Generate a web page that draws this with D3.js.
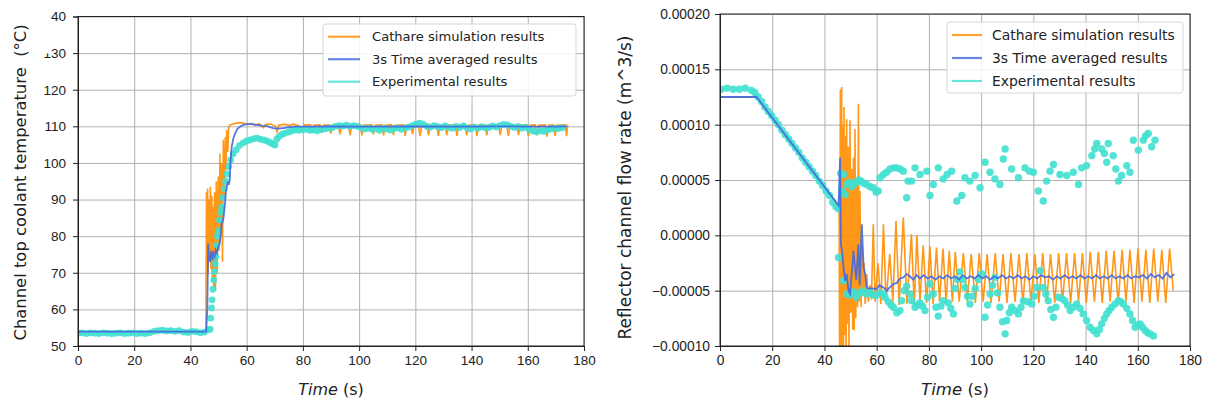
<!DOCTYPE html>
<html>
<head>
<meta charset="utf-8">
<script src="https://cdn.jsdelivr.net/npm/d3@7"></script>
<style>
  body { margin: 0; background: #fff; }
  svg { font-family: "DejaVu Sans", sans-serif; }
  .grid line { stroke: #b0b0b0; stroke-width: 1; }
  .grid path { display: none; }
  .axis path, .axis line { stroke: #222; }
  .axis text { fill: #222; }
</style>
</head>
<body>
<svg id="chart" width="1208" height="403"></svg>
<script>

// ---------- left panel: channel top coolant temperature (°C) ----------
var simTemp = [
  [0,53.9],[45.5,53.9],[45.7,92],[45.9,72],[46.1,93],[46.3,70],[46.6,90],[46.8,74],[47.1,93.5],[47.3,71],
  [47.6,91],[47.8,68],[48.1,88],[48.3,66],[48.6,92],[48.9,65.3],[49.2,95],[49.5,70],[49.9,96.3],[50.2,76],
  [50.5,102.6],[50.8,80],[51.1,100],[51.4,73],[51.7,106.3],[52.0,90],[52.4,107],[52.6,98],[52.9,109],[53.3,103],
  [53.6,109.8],[54.1,110.4],[55.9,110.8],[57.5,111],[58.8,110.9],[60.2,110.5],[61.5,110.8],[63,110.3],[64.5,110.7],
  [66,109.6],[66.7,110.5],[68.5,110.6],[70.2,110.0],[70.8,108.5],[71.4,110.3],[73.5,110.6],[75,110.2],[76.5,110.6],
  [78.5,110.2],[79.8,108.8],[80.5,110.4],
  [82.7,110.4],[83.3,108.5],[83.9,110.3],[86.1,110.4],[86.7,108.2],[87.3,110.3],[89.3,110.4],[89.9,108.0],[90.5,110.3],
  [92.6,110.4],[93.2,107.8],[93.8,110.3],[96.2,110.4],[96.8,107.6],[97.4,110.3],[100.4,110.4],[101,107.5],[101.6,110.3],
  [104.5,110.4],[105.1,107.8],[105.7,110.3],[108.1,110.4],[108.7,107.5],[109.3,110.3],[111.6,110.4],[112.2,107.6],[112.8,110.3],
  [115.8,110.4],[116.4,107.4],[117,110.3],[118.4,110.4],[119,107.9],[119.6,110.3],[121.1,110.4],[121.7,107.3],[122.3,110.3],
  [124.1,110.4],[124.7,107.5],[125.3,110.3],[127.6,110.4],[128.2,107.4],[128.8,110.3],[130.6,110.4],[131.2,107.6],[131.8,110.3],
  [134.2,110.4],[134.8,107.4],[135.4,110.3],[137.7,110.4],[138.3,107.5],[138.9,110.3],[141.3,110.4],[141.9,107.3],[142.5,110.3],
  [144.8,110.4],[145.4,107.5],[146,110.3],[149.6,110.4],[150.2,107.6],[150.8,110.3],[152.5,110.4],[153.1,107.4],[153.7,110.3],
  [156.1,110.4],[156.7,107.6],[157.3,110.3],[159.6,110.4],[160.2,107.3],[160.8,110.3],[162.6,110.4],[163.2,107.5],[163.8,110.3],
  [166.2,110.4],[166.8,107.2],[167.4,110.3],[169.1,110.4],[169.7,107.4],[170.3,110.3],[173.3,110.4],[173.8,107.3],[174.2,110.5]
];

var avgTemp = [
  [0,53.9],[45.6,53.9],[46.0,60],[46.3,78],[46.6,74],[47,73],[47.4,76],[47.8,73.5],[48.2,75.3],[48.6,74.5],
  [49.0,76.2],[49.4,75.4],[49.9,77.1],[50.4,78],[50.8,80.5],[51.1,83.5],[51.5,84],[51.8,85.3],[52.3,89],[52.6,92],
  [52.9,93.5],[53.3,94.9],[53.6,94],[54.0,95.4],[54.2,99.9],[54.7,104.5],[55.3,106.8],[55.9,108.1],[56.7,109.3],
  [57.6,109.9],[58.8,110.4],[60,110.6],[61.8,110.6],[63.6,110.4],[65.3,110.2],[67,110.1],[68.3,109.8],[69.4,109.5],
  [71.2,109.4],[73,109.5],[74.8,109.7],[76.5,109.9],[80,109.9],[90,110.0],[100,109.9],[110,109.9],[120,110.0],
  [130,109.9],[140,109.9],[150,110.0],[160,109.9],[170,109.9],[174,110.0]
];

var expTemp = [
  [0,53.5],[1.5,53.6],[3,53.4],[4.5,53.6],[6,53.5],[7.5,53.4],[9,53.6],[10.5,53.5],[12,53.4],[13.5,53.5],
  [15,53.6],[16.5,53.4],[18,53.5],[19.5,53.6],[21,53.4],[22.5,53.5],[24,53.4],[25.5,53.6],[27,54.0],[28.5,54.2],
  [30,54.3],[31.5,54.1],[33,54.2],[34.5,54.0],[36,54.2],[37.5,53.8],[39,53.7],[40.5,54.0],[42,53.9],[43.5,53.6],
  [45,53.8],[46.3,54.4],[47,54.6],[47.2,57.6],[47.5,60.4],[47.7,62.6],[48,65.5],[48.3,68],[48.5,70.3],[48.8,72.5],
  [49,74.4],[49.3,77.5],[49.6,80],[49.9,81.5],[50.3,84.4],[50.7,86.5],[51.1,88],[51.5,90.5],[52,93],[52.5,95],
  [53,97],[53.6,99],[54.3,100.8],[55.2,102.5],[56.3,103.6],[57.5,104.8],[58.8,105.5],[60,106],[61.2,106.3],
  [62.4,106.6],[63.6,106.8],[64.8,106.5],[66,106.3],[67.2,106],[68.3,105.6],[69.3,105.2],[70.1,104.9],[70.7,106.5],
  [71.5,107.2],[72.5,107.8],[73.5,108.1],[74.8,108.4],[76,108.8],[77.3,109],
  [78.6,108.9],[79.9,109.1],[81.2,109.2],[82.5,108.9],[83.8,109.0],[85.1,108.8],[86.4,109.1],[87.7,109.3],[89,109.5],
  [90.3,109.6],[91.6,110.0],[92.9,110.2],[94.2,110.1],[95.5,110.3],[96.8,110.0],[98.1,110.2],[99.4,110.0],[100.7,109.6],
  [102,109.3],[103.3,109.5],[104.6,109.2],[105.9,109.4],[107.2,108.9],[108.5,109.5],[109.8,109.3],[111.1,109.0],
  [112.4,109.4],[113.7,109.6],[115,109.2],[116.3,109.5],[117.6,109.8],[118.9,110.2],[120.2,110.6],[121.5,110.9],
  [122.8,110.5],[124.1,110.0],[125.4,109.8],[126.7,110.2],[128,109.9],[129.3,109.6],[130.6,110.1],[131.9,109.7],
  [133.2,109.5],[134.5,110.0],[135.8,109.7],[137.1,110.1],[138.4,109.6],[139.7,109.3],[141,109.8],[142.3,109.5],
  [143.6,109.9],[144.9,109.6],[146.2,109.7],[147.5,110.1],[148.8,109.8],[150.1,110.2],[151.4,110.5],[152.7,110.4],
  [154,110.0],[155.3,109.7],[156.6,110.0],[157.9,109.5],[159.2,109.8],[160.5,109.2],[161.8,108.7],[163.1,108.5],
  [164.4,108.8],[165.7,108.6],[167,109.0],[168.3,109.3],[169.6,109.5],[170.9,109.4],[172.2,109.6]
];

// ---------- right panel: reflector channel flow rate (x 1e-5 m^3/s) ----------
var simFlow = [
  [0,12.5],[14,12.5],[45.4,2.7],[45.6,2.5],[45.8,-11],[46.1,13.2],[46.3,-11],[46.6,13.4],[46.8,-11],[47.0,10.0],
  [47.3,-11],[47.5,11.6],[47.8,-9],[48.0,9],[48.3,-11],[48.5,10.5],[48.8,-8],[49.1,8],[49.4,-10.5],[49.8,10.4],
  [50.1,-7],[50.4,6],[50.8,-8.5],[51.1,7],[51.4,-8.6],[51.7,9.6],[52.0,-7.5],[52.4,5],[52.7,-6.5],[53.0,11.9],
  [53.3,-6],[53.6,4],[54.0,-6.5],[54.4,-1],[54.8,-5.5],[55.2,-2.5],[55.6,-6.2],[56.2,-3.5],[56.8,-6.0],[57.5,-4.5],
  [58.0,-5.8],[58.7,1.0],[59.4,-6.0],[60.5,-2.5],[61.6,-6.2],[62.6,1.0],[63.6,-6.1],[65.0,-1.7],[66.2,-6.0],
  [67.4,1.3],[68.6,-6.3],[70.2,1.6],[71.6,-6.2],[73.3,0.1],[74.4,-6.3],[75.4,0.0],[76.6,-6.0],[77.8,-0.9],
  [79.1,-6.1],[80.4,-1.0],[81.6,-6.2],[82.9,-1.1],[84.1,-6.0],[85.4,-1.2],[86.6,-6.1],[87.8,-1.4],[89.0,-6.0],
  [90.1,-1.5],[91.6,-6.0],[93.2,-1.6],[94.7,-6.0],[96.2,-1.7],[97.8,-6.1],[99.3,-1.6],[100.8,-6.0],[102.3,-1.7],
  [103.8,-6.1],[105.4,-1.6],[106.9,-6.0],[108.4,-1.7],[109.9,-6.1],[111.4,-1.6],[113,-6.0],[114.5,-1.7],[116,-6.1],
  [117.5,-1.6],[119.1,-6.0],[120.6,-1.7],[122.1,-6.1],[123.6,-1.6],[125.1,-6.0],[126.6,-1.7],[128.2,-6.1],
  [129.7,-1.6],[131.2,-6.0],[132.7,-1.6],[134.3,-6.1],[135.8,-1.6],[137.3,-6.0],[138.8,-1.6],[140.3,-6.1],
  [141.8,-1.5],[143.4,-6.0],[144.9,-1.5],[146.4,-6.1],[147.9,-1.4],[149.4,-6.0],[150.9,-1.4],[152.5,-6.1],
  [154.0,-1.3],[155.5,-6.0],[157.0,-1.3],[158.6,-6.1],[160.1,-1.2],[161.6,-6.0],[163.1,-1.3],[164.6,-6.1],
  [166.1,-1.2],[167.7,-6.0],[169.2,-1.3],[170.7,-6.1],[172.2,-1.2],[173.6,-5.0]
];

var avgFlow = [
  [0,12.5],[14,12.5],[45.4,2.7],[46.0,7.0],[46.3,-0.8],[46.8,-1.5],[47.3,-2.9],[47.9,-4.1],[48.5,-3.5],[49.2,-5.0],
  [49.8,-5.3],[50.3,-3.8],[50.8,-2.5],[51.1,-1.4],[51.7,-2.9],[52.2,-4.0],[53,-0.8],[53.5,-4.5],[54.3,1.0],[55,-2.9],
  [55.6,-3.5],[56.2,-4.7],[56.8,-4.8],[58,-4.8],[60,-4.85],[61,-4.5],[62.5,-4.7],[63.9,-5.0],[65,-4.7],[66.4,-4.4],
  [67.7,-4.3],[69,-3.9],[70.2,-3.8],[71.5,-3.5],[72.7,-3.7],[74,-4.0],[75.3,-3.6],[76.6,-3.9],
  [78,-3.6],[79.5,-3.9],[81,-3.7],[82.5,-4.0],[84,-3.7],[85.5,-3.9],[87,-3.6],[88.5,-3.9],[90,-3.7],[91.5,-4.0],
  [93,-3.6],[94.5,-3.9],[96,-3.7],[97.5,-3.9],[99,-3.6],[100.5,-3.9],[102,-3.7],[103.5,-4.0],[105,-3.7],[106.5,-3.9],
  [108,-3.6],[109.5,-3.9],[111,-3.7],[112.5,-3.9],[114,-3.6],[115.5,-3.9],[117,-3.7],[118.5,-4.0],[120,-3.7],
  [121.5,-3.9],[123,-3.6],[124.5,-3.8],[126,-3.7],[127.5,-4.0],[129,-3.7],[130.5,-3.9],[132,-3.6],[133.5,-3.9],
  [135,-3.7],[136.5,-3.9],[138,-3.6],[139.5,-3.9],[141,-3.7],[142.5,-3.9],[144,-3.6],[145.5,-3.9],[147,-3.7],
  [148.5,-3.9],[150,-3.6],[151.5,-3.9],[153,-3.7],[154.5,-3.9],[156,-3.6],[157.5,-3.9],[159,-3.7],[160.5,-3.8],
  [162,-3.6],[163.5,-3.9],[165,-3.5],[166.5,-3.8],[168,-3.6],[169.5,-3.9],[171,-3.4],[172.5,-3.8],[174,-3.5]
];

var expFlow = [
  [0.5,13.2],[2.8,13.3],[5.1,13.2],[7.4,13.2],[9.7,13.3],[12,13.1],[13.3,12.9],[14.6,12.5],[15.9,12.1],[17.2,11.6],
  [18.5,11.2],[19.8,10.8],[21.1,10.4],[22.4,10.0],[23.7,9.5],[25,9.1],[26.3,8.7],[27.6,8.3],[28.9,7.9],[30.2,7.5],
  [31.5,7.0],[32.8,6.6],[34.1,6.2],[35.4,5.8],[36.7,5.4],[38,4.9],[39.3,4.5],[40.6,4.0],[41.9,3.6],[43.2,3.0],
  [44.4,2.6],[45.3,2.4],
  // upper branch after the transient
  [46.2,5.6],[46.8,4.0],[47.3,5.5],[47.9,3.7],[48.5,4.6],[49.5,4.8],[50.5,4.4],[51.5,4.7],[52.3,4.8],[53.2,5.0],
  [54,4.9],[55,4.7],[56.2,4.6],[57.5,4.4],[58.7,4.3],[59.8,3.9],[60.6,4.0],[61.3,5.2],[62.6,5.5],[63.8,5.7],
  [65.1,6.0],[66.4,6.1],[67.7,6.1],[69,6.0],[70.2,5.8],[71.5,3.4],[72,4.9],[73.4,4.9],[74.7,6.1],[76.6,5.5],
  [79.2,5.8],[80.4,3.6],[81.7,4.6],[83.6,6.1],[85.5,5.1],[87,5.5],[88.7,5.8],[90.7,3.1],[92.6,3.6],[93.8,5.2],
  [95.7,4.9],[97.7,5.4],[99.6,4.3],[101.5,6.6],[103.4,5.7],[105.3,5.1],[107.2,4.6],[108.5,6.9],[109.2,7.8],
  [111.7,6.0],[114.3,5.2],[116.8,6.1],[118.5,5.8],[120,5.7],[121.9,4.0],[123.8,3.1],[125.1,4.9],[126.4,5.8],
  [127.7,6.4],[130.2,5.5],[132.8,5.4],[135.3,5.7],[137.3,4.6],[138.5,6.1],[140.4,6.3],[142.4,7.2],[143.5,7.8],
  [144.3,8.3],[146.2,7.8],[147.2,7.4],[148.1,6.6],[148.7,8.3],[150.6,7.2],[151.6,6.0],[152.6,4.9],[153.8,5.4],
  [155.8,6.3],[157,5.7],[158.3,8.6],[160.2,7.7],[162.1,8.6],[163,9.0],[164,9.2],[165.3,8.0],[166.6,8.6],
  // lower branch after the transient
  [45.4,-2.0],[47.3,-4.1],[48.5,-5.3],[49.8,-5.4],[51.1,-5.1],[52.3,-5.6],[53.6,-5.2],[54.9,-5.0],[56.2,-5.3],
  [57.5,-5.1],[58.7,-5.4],[60,-5.4],[61.3,-5.2],[62.6,-5.3],[63.2,-5.6],[64.5,-6.0],[65.5,-6.3],[66.4,-6.5],
  [67.7,-7.0],[68.9,-6.8],[69.6,-5.9],[70.5,-5.0],[71.5,-4.6],[72.8,-5.3],[73.4,-5.9],[74.7,-6.5],[75.7,-6.3],
  [76.6,-6.1],[77.6,-6.4],[78.5,-6.8],[79.5,-5.6],[80.4,-4.4],[81.7,-5.3],[82.7,-6.5],[83.6,-7.3],[84.6,-6.4],
  [85.5,-5.9],[87.4,-6.1],[88.4,-6.6],[89.4,-7.1],[90,-4.8],[91,-4.0],[91.9,-3.3],[92.9,-4.0],[93.8,-4.7],
  [94.8,-5.5],[95.7,-6.2],[96.7,-5.5],[97.7,-4.8],[99,-4.0],[100.2,-3.5],[101.5,-7.4],[102.5,-6.3],[103.4,-5.3],
  [104.4,-4.5],[105.3,-3.8],[106.3,-5.2],[107.2,-6.5],[108.2,-7.8],[109.2,-8.9],[109.8,-7.7],[110.8,-7.0],
  [111.7,-6.5],[113,-6.8],[114.3,-7.1],[115.3,-6.5],[116.2,-5.9],[117.8,-6.0],[119.4,-6.2],[120.3,-5.5],
  [121.3,-4.7],[122.6,-3.2],[123.8,-4.7],[124.8,-5.3],[125.7,-5.9],[126.7,-6.7],[127.7,-7.4],[128.7,-6.5],
  [129.6,-5.6],[130.9,-5.7],[132.1,-5.9],[133.1,-6.3],[134.1,-6.8],[135.3,-6.5],[136.6,-6.2],[137.9,-6.6],
  [139.1,-7.1],[140.4,-7.7],[141.7,-8.3],[143,-8.6],[144.3,-8.9],[145.3,-8.5],[146.2,-8.0],[147.2,-7.5],
  [148.1,-7.1],[149,-6.8],[150,-6.5],[151.3,-6.2],[152.6,-5.9],[153.5,-6.0],[154.5,-6.2],[155.8,-6.6],[157,-7.1],
  [158,-7.7],[159,-8.3],[160,-8.1],[160.9,-8.0],[161.8,-8.3],[162.8,-8.6],[163.8,-8.8],[164.7,-8.9],[166,-9.1]
];

var seriesNames = ["Cathare simulation results", "3s Time averaged results", "Experimental results"];
var seriesColors = ["#ff8c00", "#4169e1", "#40e0d0"];
var timeTicks = [0, 20, 40, 60, 80, 100, 120, 140, 160, 180];
var tempTicks = [50, 60, 70, 80, 90, 100, 110, 120, 130, 140];
// the top label of the temperature axis is shown without its leading "1" in the original figure
var tempTickLabels = ["50", "60", "70", "80", "90", "100", "110", "120", "130", "40"];
var flowTicks = [-0.0001, -0.00005, 0, 0.00005, 0.0001, 0.00015, 0.0002];

var svg = d3.select("#chart");

function drawPanel(p) {
  var x = d3.scaleLinear().domain([0, 180]).range([p.left, p.right]);
  var y = d3.scaleLinear().domain(p.yDomain).range([p.bottom, p.top]);
  var g = svg.append("g");

  // grid
  g.append("g").attr("class", "grid")
    .attr("transform", "translate(0," + p.bottom + ")")
    .call(d3.axisBottom(x).tickValues(timeTicks).tickSize(-(p.bottom - p.top)).tickFormat(""));
  g.append("g").attr("class", "grid")
    .attr("transform", "translate(" + p.left + ",0)")
    .call(d3.axisLeft(y).tickValues(p.yTicks).tickSize(-(p.right - p.left)).tickFormat(""));

  var clipId = "clip" + p.id;
  g.append("clipPath").attr("id", clipId).append("rect")
    .attr("x", p.left).attr("y", p.top)
    .attr("width", p.right - p.left).attr("height", p.bottom - p.top);

  var plot = g.append("g").attr("clip-path", "url(#" + clipId + ")");
  var line = d3.line()
    .x(function(d) { return x(d[0]); })
    .y(function(d) { return y(d[1] * p.scale); });

  plot.append("path").datum(p.sim)
    .attr("d", line).attr("fill", "none")
    .attr("stroke", seriesColors[0]).attr("stroke-width", 1.6).attr("stroke-opacity", 0.9);

  plot.selectAll("circle").data(p.exp).enter().append("circle")
    .attr("cx", function(d) { return x(d[0]); })
    .attr("cy", function(d) { return y(d[1] * p.scale); })
    .attr("r", p.dotR)
    .attr("fill", seriesColors[2]).attr("fill-opacity", 0.9);

  plot.append("path").datum(p.avg)
    .attr("d", line).attr("fill", "none")
    .attr("stroke", seriesColors[1]).attr("stroke-width", 1.8).attr("stroke-opacity", 0.9);

  // axes and frame
  g.append("g").attr("class", "axis")
    .attr("transform", "translate(0," + p.bottom + ")")
    .call(d3.axisBottom(x).tickValues(timeTicks).tickSize(5).tickPadding(4))
    .selectAll("text").attr("font-size", p.tickFont);
  g.append("g").attr("class", "axis")
    .attr("transform", "translate(" + p.left + ",0)")
    .call(d3.axisLeft(y).tickValues(p.yTicks).tickSize(5).tickPadding(p.yPad).tickFormat(p.yFormat))
    .selectAll("text").attr("font-size", p.tickFont);
  g.append("rect")
    .attr("x", p.left).attr("y", p.top)
    .attr("width", p.right - p.left).attr("height", p.bottom - p.top)
    .attr("fill", "none").attr("stroke", "#222").attr("stroke-width", 1);

  // axis labels
  var xl = g.append("text")
    .attr("x", (p.left + p.right) / 2).attr("y", 395)
    .attr("text-anchor", "middle").attr("font-size", p.labelFont).attr("fill", "#222");
  xl.append("tspan").attr("font-style", "italic").text("Time");
  xl.append("tspan").text(" (s)");

  g.append("text")
    .attr("transform", "translate(" + p.yLabelX + "," + p.yLabelY + ") rotate(-90)")
    .attr("text-anchor", "middle").attr("font-size", p.yLabelFont).attr("fill", "#222")
    .style("white-space", "pre")
    .text(p.yLabel);

  // legend
  var L = p.legend;
  g.append("rect")
    .attr("x", L.x).attr("y", L.y).attr("width", L.w).attr("height", L.h)
    .attr("rx", 3).attr("fill", "#fff").attr("fill-opacity", 0.85)
    .attr("stroke", "#d6d6d6");
  seriesNames.forEach(function(name, i) {
    var yy = L.y + L.first + i * L.step;
    g.append("line")
      .attr("x1", L.x + 5).attr("x2", L.x + 5 + L.lineLen)
      .attr("y1", yy).attr("y2", yy)
      .attr("stroke", seriesColors[i]).attr("stroke-width", 2.2).attr("stroke-opacity", 0.8);
    g.append("text")
      .attr("x", L.x + L.textX).attr("y", yy).attr("dy", "0.35em")
      .attr("font-size", L.font).attr("fill", "#222")
      .text(name);
  });
  return g;
}

var left = drawPanel({
  id: "L", left: 78, right: 584, top: 16.5, bottom: 346,
  yDomain: [50, 140], yTicks: tempTicks, yPad: 7, scale: 1,
  yFormat: function(d, i) { return tempTickLabels[i]; },
  sim: simTemp, avg: avgTemp, exp: expTemp, dotR: 3.4,
  tickFont: "13.5px", labelFont: "16px", yLabelFont: "16.4px",
  yLabel: "Channel top coolant temperature  (\u00b0C)", yLabelX: 26, yLabelY: 182.5,
  legend: { x: 323, y: 24, w: 253, h: 72, first: 12.7, step: 22.5, lineLen: 32, textX: 49, font: "13.1px" }
});

// only the lower half of the "1" in "130" shows in the original figure
left.append("rect").attr("x", 34).attr("y", 40).attr("width", 15).attr("height", 13.5).attr("fill", "#fff");

drawPanel({
  id: "R", left: 720, right: 1190, top: 14, bottom: 346,
  yDomain: [-0.0001, 0.0002], yTicks: flowTicks, yFormat: d3.format(".5f"), yPad: 5, scale: 1e-5,
  sim: simFlow, avg: avgFlow, exp: expFlow, dotR: 3.7,
  tickFont: "13.8px", labelFont: "16.6px", yLabelFont: "17px",
  yLabel: "Reflector channel flow rate (m^3/s)", yLabelX: 631, yLabelY: 187.5,
  legend: { x: 947, y: 22, w: 236, h: 71, first: 13, step: 23, lineLen: 30, textX: 45, font: "13.9px" }
});

</script>
</body>
</html>
